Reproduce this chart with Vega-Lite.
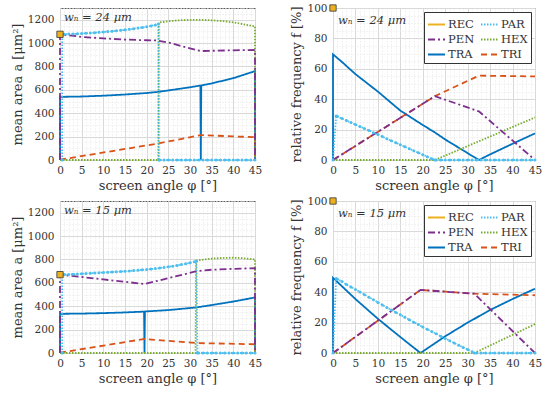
{
  "$schema": "https://vega.github.io/schema/vega-lite/v6.json",
  "padding": {"left": 10, "top": 2, "right": 2, "bottom": 2},
  "background": "white",
  "columns": 2,
  "spacing": {"row": 2, "column": 27},
  "align": "each",
  "resolve": {"scale": {"color": "independent", "strokeDash": "independent", "x": "independent", "y": "independent"}, "legend": {"color": "independent", "strokeDash": "independent"}},
  "concat": [
    {
      "width": 195, "height": 152,
      "view": {"stroke": "#5a5a5a", "strokeWidth": 1},
      "data": {"values": [
        {"s":"TRA","x":0,"y":0},{"s":"TRA","x":0,"y":540},{"s":"TRA","x":5,"y":543},{"s":"TRA","x":10,"y":550},{"s":"TRA","x":15,"y":560},{"s":"TRA","x":20,"y":573},{"s":"TRA","x":22.5,"y":582},{"s":"TRA","x":25,"y":595},{"s":"TRA","x":30,"y":622},{"s":"TRA","x":32.4,"y":637},{"s":"TRA","x":32.5,"y":0},{"s":"TRA","x":32.6,"y":638},{"s":"TRA","x":35,"y":655},{"s":"TRA","x":40,"y":700},{"s":"TRA","x":45,"y":760},{"s":"TRA","x":45,"y":0},
        {"s":"TRI","x":0,"y":3},{"s":"TRI","x":22.5,"y":140},{"s":"TRI","x":32.5,"y":213},{"s":"TRI","x":45,"y":195},{"s":"TRI","x":45,"y":0},
        {"s":"HEX","x":0,"y":0},{"s":"HEX","x":22.7,"y":0},{"s":"HEX","x":22.8,"y":1175},{"s":"HEX","x":25,"y":1187},{"s":"HEX","x":27.5,"y":1195},{"s":"HEX","x":30,"y":1199},{"s":"HEX","x":32.5,"y":1199},{"s":"HEX","x":35,"y":1195},{"s":"HEX","x":37.5,"y":1188},{"s":"HEX","x":40,"y":1177},{"s":"HEX","x":42.5,"y":1160},{"s":"HEX","x":45,"y":1142},{"s":"HEX","x":45,"y":0},
        {"s":"PEN","x":0,"y":0},{"s":"PEN","x":0,"y":1075},{"s":"PEN","x":5,"y":1053},{"s":"PEN","x":10,"y":1040},{"s":"PEN","x":15,"y":1030},{"s":"PEN","x":20,"y":1024},{"s":"PEN","x":22.5,"y":1022},{"s":"PEN","x":25,"y":1005},{"s":"PEN","x":30,"y":955},{"s":"PEN","x":32.5,"y":932},{"s":"PEN","x":35,"y":934},{"s":"PEN","x":40,"y":938},{"s":"PEN","x":45,"y":941},{"s":"PEN","x":45,"y":0},
        {"s":"PAR","x":0.5,"y":0},{"s":"PAR","x":0.5,"y":1075},{"s":"PAR","x":1,"y":1076},{"s":"PAR","x":2,"y":1077},{"s":"PAR","x":3,"y":1078},{"s":"PAR","x":4,"y":1080},{"s":"PAR","x":5,"y":1082},{"s":"PAR","x":6,"y":1084},{"s":"PAR","x":7,"y":1086},{"s":"PAR","x":8,"y":1089},{"s":"PAR","x":9,"y":1092},{"s":"PAR","x":10,"y":1095},{"s":"PAR","x":11,"y":1098},{"s":"PAR","x":12,"y":1101},{"s":"PAR","x":13,"y":1105},{"s":"PAR","x":14,"y":1109},{"s":"PAR","x":15,"y":1113},{"s":"PAR","x":16,"y":1118},{"s":"PAR","x":17,"y":1123},{"s":"PAR","x":18,"y":1128},{"s":"PAR","x":19,"y":1134},{"s":"PAR","x":20,"y":1140},{"s":"PAR","x":21,"y":1147},{"s":"PAR","x":22,"y":1155},{"s":"PAR","x":22.7,"y":1163},{"s":"PAR","x":22.8,"y":0},{"s":"PAR","x":23,"y":0},{"s":"PAR","x":24,"y":0},{"s":"PAR","x":25,"y":0},{"s":"PAR","x":26,"y":0},{"s":"PAR","x":27,"y":0},{"s":"PAR","x":28,"y":0},{"s":"PAR","x":29,"y":0},{"s":"PAR","x":30,"y":0},{"s":"PAR","x":31,"y":0},{"s":"PAR","x":32,"y":0},{"s":"PAR","x":33,"y":0},{"s":"PAR","x":34,"y":0},{"s":"PAR","x":35,"y":0},{"s":"PAR","x":36,"y":0},{"s":"PAR","x":37,"y":0},{"s":"PAR","x":38,"y":0},{"s":"PAR","x":39,"y":0},{"s":"PAR","x":40,"y":0},{"s":"PAR","x":41,"y":0},{"s":"PAR","x":42,"y":0},{"s":"PAR","x":43,"y":0},{"s":"PAR","x":44,"y":0},{"s":"PAR","x":45,"y":0},
        {"s":"REC","x":0,"y":1075}
      ]},
      "encoding": {
        "x": {"field":"x","type":"quantitative","scale":{"domain":[0,45],"nice":false,"zero":false},"axis":{"title":"screen angle  φ [°]","values":[0,1,2,3,4,5,6,7,8,9,10,11,12,13,14,15,16,17,18,19,20,21,22,23,24,25,26,27,28,29,30,31,32,33,34,35,36,37,38,39,40,41,42,43,44,45],"format":"d","labelExpr":"datum.value % 5 === 0 ? datum.label : ''","labelFont":"DejaVu Serif","labelFontSize":10.5,"labelColor":"#333333","titleFont":"DejaVu Serif","titleFontSize":13,"titleFontWeight":"normal","titleColor":"#333333","domain":false,"ticks":false,"labelPadding":5,"titlePadding":4,"labelOverlap":false,"labelFlush":false,"gridColor":{"condition":{"test":"datum.value % 5 === 0","value":"#d9d9d9"},"value":"#e6e6e6"},"gridDash":{"condition":{"test":"datum.value % 5 === 0","value":[]},"value":[1,2]}}},
        "y": {"field":"y","type":"quantitative","scale":{"domain":[0,1300],"nice":false},"axis":{"title":"mean area a [μm²]","values":[0,50,100,150,200,250,300,350,400,450,500,550,600,650,700,750,800,850,900,950,1000,1050,1100,1150,1200,1250,1300],"format":"d","labelExpr":"datum.value % 200 === 0 ? datum.label : ''","labelFont":"DejaVu Serif","labelFontSize":10.5,"labelColor":"#333333","titleFont":"DejaVu Serif","titleFontSize":13,"titleFontWeight":"normal","titleColor":"#333333","domain":false,"ticks":false,"labelPadding":6,"titlePadding":3,"labelOverlap":false,"labelFlush":false,"gridColor":{"condition":{"test":"datum.value % 200 === 0","value":"#d9d9d9"},"value":"#e6e6e6"},"gridDash":{"condition":{"test":"datum.value % 200 === 0","value":[]},"value":[1,2]}}}
      },
      "layer": [
        {"transform":[{"filter":"datum.s !== 'REC'"}],
         "mark":{"type":"line","strokeWidth":1.8,"strokeCap":"butt"},
         "encoding":{
           "color":{"field":"s","type":"nominal","scale":{"domain":["REC","PEN","TRA","PAR","HEX","TRI"],"range":["#EDB120","#7E2F8E","#0072BD","#4DBEEE","#77AC30","#D95319"]},"legend":null},
           "strokeDash":{"field":"s","type":"nominal","scale":{"domain":["REC","PEN","TRA","PAR","HEX","TRI"],"range":[[1,0],[7,3,2,3],[1,0],[1.5,1.5],[1.5,1.5],[6,4]]},"legend":null},
           "order":{"value":null}
         }},
        {"transform":[{"filter":"datum.s === 'PAR'"}],"mark":{"type":"point","filled":true,"size":9,"color":"#4DBEEE","opacity":1}},
        {"transform":[{"filter":"datum.s === 'REC'"}],"mark":{"type":"point","shape":"square","filled":true,"size":40,"color":"#EDB120","stroke":"#333333","strokeWidth":0.8,"opacity":1}},
        {"data":{"values":[{"x":0.9,"y":1217,"t":"wₙ = 24 μm"}]},"mark":{"type":"text","align":"left","baseline":"middle","font":"DejaVu Serif","fontStyle":"italic","fontSize":11.5,"color":"#333333"},"encoding":{"text":{"field":"t"}}}
      ]
    },
    {
      "width": 202, "height": 152,
      "view": {"stroke": "#5a5a5a", "strokeWidth": 1},
      "data": {"values": [
        {"s":"TRA","x":0,"y":0},{"s":"TRA","x":0,"y":69.5},{"s":"TRA","x":2,"y":64.5},{"s":"TRA","x":5,"y":56.5},{"s":"TRA","x":10,"y":45},{"s":"TRA","x":15,"y":32.5},{"s":"TRA","x":20,"y":23},{"s":"TRA","x":22.5,"y":18.5},{"s":"TRA","x":25,"y":13.5},{"s":"TRA","x":30,"y":4.5},{"s":"TRA","x":32.5,"y":0},{"s":"TRA","x":35,"y":3.7},{"s":"TRA","x":40,"y":10.7},{"s":"TRA","x":45,"y":17.5},
        {"s":"TRI","x":0,"y":0},{"s":"TRI","x":22.7,"y":42},{"s":"TRI","x":32.5,"y":55.5},{"s":"TRI","x":45,"y":55},
        {"s":"HEX","x":0,"y":0},{"s":"HEX","x":22.7,"y":0},{"s":"HEX","x":45,"y":28},
        {"s":"PEN","x":0,"y":0},{"s":"PEN","x":22.7,"y":42},{"s":"PEN","x":32.5,"y":32},{"s":"PEN","x":45,"y":0},
        {"s":"PAR","x":0,"y":0},{"s":"PAR","x":0.7,"y":29},{"s":"PAR","x":1,"y":28.6},{"s":"PAR","x":2,"y":27.3},{"s":"PAR","x":3,"y":26},{"s":"PAR","x":4,"y":24.6},{"s":"PAR","x":5,"y":23.3},{"s":"PAR","x":6,"y":22},{"s":"PAR","x":7,"y":20.7},{"s":"PAR","x":8,"y":19.4},{"s":"PAR","x":9,"y":18},{"s":"PAR","x":10,"y":16.7},{"s":"PAR","x":11,"y":15.4},{"s":"PAR","x":12,"y":14},{"s":"PAR","x":13,"y":12.7},{"s":"PAR","x":14,"y":11.4},{"s":"PAR","x":15,"y":10},{"s":"PAR","x":16,"y":8.7},{"s":"PAR","x":17,"y":7.4},{"s":"PAR","x":18,"y":6.1},{"s":"PAR","x":19,"y":4.8},{"s":"PAR","x":20,"y":3.5},{"s":"PAR","x":21,"y":2.2},{"s":"PAR","x":22,"y":0.9},{"s":"PAR","x":22.7,"y":0},{"s":"PAR","x":23,"y":0},{"s":"PAR","x":24,"y":0},{"s":"PAR","x":25,"y":0},{"s":"PAR","x":26,"y":0},{"s":"PAR","x":27,"y":0},{"s":"PAR","x":28,"y":0},{"s":"PAR","x":29,"y":0},{"s":"PAR","x":30,"y":0},{"s":"PAR","x":31,"y":0},{"s":"PAR","x":32,"y":0},{"s":"PAR","x":33,"y":0},{"s":"PAR","x":34,"y":0},{"s":"PAR","x":35,"y":0},{"s":"PAR","x":36,"y":0},{"s":"PAR","x":37,"y":0},{"s":"PAR","x":38,"y":0},{"s":"PAR","x":39,"y":0},{"s":"PAR","x":40,"y":0},{"s":"PAR","x":41,"y":0},{"s":"PAR","x":42,"y":0},{"s":"PAR","x":43,"y":0},{"s":"PAR","x":44,"y":0},{"s":"PAR","x":45,"y":0},
        {"s":"REC","x":0,"y":100}
      ]},
      "encoding": {
        "x": {"field":"x","type":"quantitative","scale":{"domain":[0,45],"nice":false,"zero":false},"axis":{"title":"screen angle  φ [°]","values":[0,1,2,3,4,5,6,7,8,9,10,11,12,13,14,15,16,17,18,19,20,21,22,23,24,25,26,27,28,29,30,31,32,33,34,35,36,37,38,39,40,41,42,43,44,45],"format":"d","labelExpr":"datum.value % 5 === 0 ? datum.label : ''","labelFont":"DejaVu Serif","labelFontSize":10.5,"labelColor":"#333333","titleFont":"DejaVu Serif","titleFontSize":13,"titleFontWeight":"normal","titleColor":"#333333","domain":false,"ticks":false,"labelPadding":5,"titlePadding":4,"labelOverlap":false,"labelFlush":false,"gridColor":{"condition":{"test":"datum.value % 5 === 0","value":"#d9d9d9"},"value":"#e6e6e6"},"gridDash":{"condition":{"test":"datum.value % 5 === 0","value":[]},"value":[1,2]}}},
        "y": {"field":"y","type":"quantitative","scale":{"domain":[0,100],"nice":false},"axis":{"title":"relative frequency f [%]","values":[0,5,10,15,20,25,30,35,40,45,50,55,60,65,70,75,80,85,90,95,100],"format":"d","labelExpr":"datum.value % 20 === 0 ? datum.label : ''","labelFont":"DejaVu Serif","labelFontSize":10.5,"labelColor":"#333333","titleFont":"DejaVu Serif","titleFontSize":13,"titleFontWeight":"normal","titleColor":"#333333","domain":false,"ticks":false,"labelPadding":6,"titlePadding":3,"labelOverlap":false,"labelFlush":false,"gridColor":{"condition":{"test":"datum.value % 20 === 0","value":"#d9d9d9"},"value":"#e6e6e6"},"gridDash":{"condition":{"test":"datum.value % 20 === 0","value":[]},"value":[1,2]}}}
      },
      "layer": [
        {"transform":[{"filter":"datum.s !== 'REC'"}],
         "mark":{"type":"line","strokeWidth":1.8,"strokeCap":"butt"},
         "encoding":{
           "color":{"field":"s","type":"nominal","scale":{"domain":["REC","PEN","TRA","PAR","HEX","TRI"],"range":["#EDB120","#7E2F8E","#0072BD","#4DBEEE","#77AC30","#D95319"]},"legend":{"title":null,"orient":"top-right","offset":4,"columns":2,"symbolType":"stroke","symbolSize":289,"symbolStrokeWidth":1.8,"strokeColor":"#333333","fillColor":"white","padding":3,"columnPadding":2,"rowPadding":0,"labelOffset":2,"labelFont":"DejaVu Serif","labelFontSize":11.5,"labelColor":"#333333"}},
           "strokeDash":{"field":"s","type":"nominal","scale":{"domain":["REC","PEN","TRA","PAR","HEX","TRI"],"range":[[1,0],[7,3,2,3],[1,0],[1.5,1.5],[1.5,1.5],[6,4]]},"legend":{"title":null,"orient":"top-right","offset":4,"columns":2,"symbolType":"stroke","symbolSize":289,"symbolStrokeWidth":1.8,"strokeColor":"#333333","fillColor":"white","padding":3,"columnPadding":2,"rowPadding":0,"labelOffset":2,"labelFont":"DejaVu Serif","labelFontSize":11.5,"labelColor":"#333333"}},
           "order":{"value":null}
         }},
        {"transform":[{"filter":"datum.s === 'PAR'"}],"mark":{"type":"point","filled":true,"size":9,"color":"#4DBEEE","opacity":1}},
        {"transform":[{"filter":"datum.s === 'REC'"}],"mark":{"type":"point","shape":"square","filled":true,"size":40,"color":"#EDB120","stroke":"#333333","strokeWidth":0.8,"opacity":1}},
        {"data":{"values":[{"x":1.1,"y":91.5,"t":"wₙ = 24 μm"}]},"mark":{"type":"text","align":"left","baseline":"middle","font":"DejaVu Serif","fontStyle":"italic","fontSize":11.5,"color":"#333333"},"encoding":{"text":{"field":"t"}}}
      ]
    },
    {
      "width": 195, "height": 152,
      "view": {"stroke": "#5a5a5a", "strokeWidth": 1},
      "data": {"values": [
        {"s":"TRA","x":0,"y":0},{"s":"TRA","x":0,"y":335},{"s":"TRA","x":5,"y":337},{"s":"TRA","x":10,"y":341},{"s":"TRA","x":15,"y":347},{"s":"TRA","x":19.4,"y":354},{"s":"TRA","x":19.5,"y":0},{"s":"TRA","x":19.6,"y":355},{"s":"TRA","x":25,"y":367},{"s":"TRA","x":31.5,"y":390},{"s":"TRA","x":35,"y":410},{"s":"TRA","x":40,"y":440},{"s":"TRA","x":45,"y":475},{"s":"TRA","x":45,"y":0},
        {"s":"TRI","x":0,"y":3},{"s":"TRI","x":19.5,"y":120},{"s":"TRI","x":31.5,"y":85},{"s":"TRI","x":45,"y":75},{"s":"TRI","x":45,"y":0},
        {"s":"HEX","x":0,"y":0},{"s":"HEX","x":31.3,"y":0},{"s":"HEX","x":31.4,"y":790},{"s":"HEX","x":35,"y":808},{"s":"HEX","x":37.5,"y":813},{"s":"HEX","x":40,"y":815},{"s":"HEX","x":42.5,"y":810},{"s":"HEX","x":45,"y":800},{"s":"HEX","x":45,"y":0},
        {"s":"PEN","x":0,"y":0},{"s":"PEN","x":0,"y":670},{"s":"PEN","x":5,"y":650},{"s":"PEN","x":10,"y":629},{"s":"PEN","x":15,"y":609},{"s":"PEN","x":19.5,"y":590},{"s":"PEN","x":25,"y":640},{"s":"PEN","x":31.5,"y":700},{"s":"PEN","x":35,"y":712},{"s":"PEN","x":40,"y":720},{"s":"PEN","x":45,"y":725},{"s":"PEN","x":45,"y":0},
        {"s":"PAR","x":0.5,"y":0},{"s":"PAR","x":0.5,"y":670},{"s":"PAR","x":1,"y":671},{"s":"PAR","x":2,"y":672},{"s":"PAR","x":3,"y":674},{"s":"PAR","x":4,"y":676},{"s":"PAR","x":5,"y":678},{"s":"PAR","x":6,"y":680},{"s":"PAR","x":7,"y":682},{"s":"PAR","x":8,"y":684},{"s":"PAR","x":9,"y":686},{"s":"PAR","x":10,"y":688},{"s":"PAR","x":11,"y":690},{"s":"PAR","x":12,"y":692},{"s":"PAR","x":13,"y":694},{"s":"PAR","x":14,"y":696},{"s":"PAR","x":15,"y":699},{"s":"PAR","x":16,"y":702},{"s":"PAR","x":17,"y":705},{"s":"PAR","x":18,"y":708},{"s":"PAR","x":19,"y":711},{"s":"PAR","x":20,"y":714},{"s":"PAR","x":21,"y":718},{"s":"PAR","x":22,"y":722},{"s":"PAR","x":23,"y":727},{"s":"PAR","x":24,"y":732},{"s":"PAR","x":25,"y":737},{"s":"PAR","x":26,"y":743},{"s":"PAR","x":27,"y":749},{"s":"PAR","x":28,"y":756},{"s":"PAR","x":29,"y":763},{"s":"PAR","x":30,"y":771},{"s":"PAR","x":31,"y":780},{"s":"PAR","x":31.5,"y":785},{"s":"PAR","x":31.7,"y":0},{"s":"PAR","x":32,"y":0},{"s":"PAR","x":33,"y":0},{"s":"PAR","x":34,"y":0},{"s":"PAR","x":35,"y":0},{"s":"PAR","x":36,"y":0},{"s":"PAR","x":37,"y":0},{"s":"PAR","x":38,"y":0},{"s":"PAR","x":39,"y":0},{"s":"PAR","x":40,"y":0},{"s":"PAR","x":41,"y":0},{"s":"PAR","x":42,"y":0},{"s":"PAR","x":43,"y":0},{"s":"PAR","x":44,"y":0},{"s":"PAR","x":45,"y":0},
        {"s":"REC","x":0,"y":670}
      ]},
      "encoding": {
        "x": {"field":"x","type":"quantitative","scale":{"domain":[0,45],"nice":false,"zero":false},"axis":{"title":"screen angle  φ [°]","values":[0,1,2,3,4,5,6,7,8,9,10,11,12,13,14,15,16,17,18,19,20,21,22,23,24,25,26,27,28,29,30,31,32,33,34,35,36,37,38,39,40,41,42,43,44,45],"format":"d","labelExpr":"datum.value % 5 === 0 ? datum.label : ''","labelFont":"DejaVu Serif","labelFontSize":10.5,"labelColor":"#333333","titleFont":"DejaVu Serif","titleFontSize":13,"titleFontWeight":"normal","titleColor":"#333333","domain":false,"ticks":false,"labelPadding":5,"titlePadding":4,"labelOverlap":false,"labelFlush":false,"gridColor":{"condition":{"test":"datum.value % 5 === 0","value":"#d9d9d9"},"value":"#e6e6e6"},"gridDash":{"condition":{"test":"datum.value % 5 === 0","value":[]},"value":[1,2]}}},
        "y": {"field":"y","type":"quantitative","scale":{"domain":[0,1300],"nice":false},"axis":{"title":"mean area a [μm²]","values":[0,50,100,150,200,250,300,350,400,450,500,550,600,650,700,750,800,850,900,950,1000,1050,1100,1150,1200,1250,1300],"format":"d","labelExpr":"datum.value % 200 === 0 ? datum.label : ''","labelFont":"DejaVu Serif","labelFontSize":10.5,"labelColor":"#333333","titleFont":"DejaVu Serif","titleFontSize":13,"titleFontWeight":"normal","titleColor":"#333333","domain":false,"ticks":false,"labelPadding":6,"titlePadding":3,"labelOverlap":false,"labelFlush":false,"gridColor":{"condition":{"test":"datum.value % 200 === 0","value":"#d9d9d9"},"value":"#e6e6e6"},"gridDash":{"condition":{"test":"datum.value % 200 === 0","value":[]},"value":[1,2]}}}
      },
      "layer": [
        {"transform":[{"filter":"datum.s !== 'REC'"}],
         "mark":{"type":"line","strokeWidth":1.8,"strokeCap":"butt"},
         "encoding":{
           "color":{"field":"s","type":"nominal","scale":{"domain":["REC","PEN","TRA","PAR","HEX","TRI"],"range":["#EDB120","#7E2F8E","#0072BD","#4DBEEE","#77AC30","#D95319"]},"legend":null},
           "strokeDash":{"field":"s","type":"nominal","scale":{"domain":["REC","PEN","TRA","PAR","HEX","TRI"],"range":[[1,0],[7,3,2,3],[1,0],[1.5,1.5],[1.5,1.5],[6,4]]},"legend":null},
           "order":{"value":null}
         }},
        {"transform":[{"filter":"datum.s === 'PAR'"}],"mark":{"type":"point","filled":true,"size":9,"color":"#4DBEEE","opacity":1}},
        {"transform":[{"filter":"datum.s === 'REC'"}],"mark":{"type":"point","shape":"square","filled":true,"size":40,"color":"#EDB120","stroke":"#333333","strokeWidth":0.8,"opacity":1}},
        {"data":{"values":[{"x":0.9,"y":1217,"t":"wₙ = 15 μm"}]},"mark":{"type":"text","align":"left","baseline":"middle","font":"DejaVu Serif","fontStyle":"italic","fontSize":11.5,"color":"#333333"},"encoding":{"text":{"field":"t"}}}
      ]
    },
    {
      "width": 202, "height": 152,
      "view": {"stroke": "#5a5a5a", "strokeWidth": 1},
      "data": {"values": [
        {"s":"TRA","x":0,"y":0},{"s":"TRA","x":0,"y":49.5},{"s":"TRA","x":5,"y":35.5},{"s":"TRA","x":10,"y":22.5},{"s":"TRA","x":15,"y":10.5},{"s":"TRA","x":19.5,"y":0},{"s":"TRA","x":25,"y":11},{"s":"TRA","x":30,"y":20},{"s":"TRA","x":35,"y":28.3},{"s":"TRA","x":40,"y":35.5},{"s":"TRA","x":45,"y":42.3},
        {"s":"TRI","x":0,"y":0},{"s":"TRI","x":19.5,"y":41.5},{"s":"TRI","x":31.5,"y":39},{"s":"TRI","x":45,"y":38},
        {"s":"HEX","x":0,"y":0},{"s":"HEX","x":31.5,"y":0},{"s":"HEX","x":45,"y":19},
        {"s":"PEN","x":0,"y":0},{"s":"PEN","x":19.5,"y":41.5},{"s":"PEN","x":31.5,"y":39},{"s":"PEN","x":45,"y":0},
        {"s":"PAR","x":0,"y":0},{"s":"PAR","x":0.7,"y":49},{"s":"PAR","x":1,"y":48.5},{"s":"PAR","x":2,"y":47},{"s":"PAR","x":3,"y":45},{"s":"PAR","x":4,"y":43.5},{"s":"PAR","x":5,"y":41.8},{"s":"PAR","x":6,"y":40.1},{"s":"PAR","x":7,"y":38.4},{"s":"PAR","x":8,"y":36.7},{"s":"PAR","x":9,"y":35},{"s":"PAR","x":10,"y":33.3},{"s":"PAR","x":11,"y":31.6},{"s":"PAR","x":12,"y":29.9},{"s":"PAR","x":13,"y":28.3},{"s":"PAR","x":14,"y":26.7},{"s":"PAR","x":15,"y":25.1},{"s":"PAR","x":16,"y":23.5},{"s":"PAR","x":17,"y":21.9},{"s":"PAR","x":18,"y":20.3},{"s":"PAR","x":19,"y":18.7},{"s":"PAR","x":20,"y":17.1},{"s":"PAR","x":21,"y":15.6},{"s":"PAR","x":22,"y":14.1},{"s":"PAR","x":23,"y":12.6},{"s":"PAR","x":24,"y":11.1},{"s":"PAR","x":25,"y":9.6},{"s":"PAR","x":26,"y":8.1},{"s":"PAR","x":27,"y":6.6},{"s":"PAR","x":28,"y":5.1},{"s":"PAR","x":29,"y":3.7},{"s":"PAR","x":30,"y":2.3},{"s":"PAR","x":31,"y":0.9},{"s":"PAR","x":31.5,"y":0},{"s":"PAR","x":32,"y":0},{"s":"PAR","x":33,"y":0},{"s":"PAR","x":34,"y":0},{"s":"PAR","x":35,"y":0},{"s":"PAR","x":36,"y":0},{"s":"PAR","x":37,"y":0},{"s":"PAR","x":38,"y":0},{"s":"PAR","x":39,"y":0},{"s":"PAR","x":40,"y":0},{"s":"PAR","x":41,"y":0},{"s":"PAR","x":42,"y":0},{"s":"PAR","x":43,"y":0},{"s":"PAR","x":44,"y":0},{"s":"PAR","x":45,"y":0},
        {"s":"REC","x":0,"y":100}
      ]},
      "encoding": {
        "x": {"field":"x","type":"quantitative","scale":{"domain":[0,45],"nice":false,"zero":false},"axis":{"title":"screen angle  φ [°]","values":[0,1,2,3,4,5,6,7,8,9,10,11,12,13,14,15,16,17,18,19,20,21,22,23,24,25,26,27,28,29,30,31,32,33,34,35,36,37,38,39,40,41,42,43,44,45],"format":"d","labelExpr":"datum.value % 5 === 0 ? datum.label : ''","labelFont":"DejaVu Serif","labelFontSize":10.5,"labelColor":"#333333","titleFont":"DejaVu Serif","titleFontSize":13,"titleFontWeight":"normal","titleColor":"#333333","domain":false,"ticks":false,"labelPadding":5,"titlePadding":4,"labelOverlap":false,"labelFlush":false,"gridColor":{"condition":{"test":"datum.value % 5 === 0","value":"#d9d9d9"},"value":"#e6e6e6"},"gridDash":{"condition":{"test":"datum.value % 5 === 0","value":[]},"value":[1,2]}}},
        "y": {"field":"y","type":"quantitative","scale":{"domain":[0,100],"nice":false},"axis":{"title":"relative frequency f [%]","values":[0,5,10,15,20,25,30,35,40,45,50,55,60,65,70,75,80,85,90,95,100],"format":"d","labelExpr":"datum.value % 20 === 0 ? datum.label : ''","labelFont":"DejaVu Serif","labelFontSize":10.5,"labelColor":"#333333","titleFont":"DejaVu Serif","titleFontSize":13,"titleFontWeight":"normal","titleColor":"#333333","domain":false,"ticks":false,"labelPadding":6,"titlePadding":3,"labelOverlap":false,"labelFlush":false,"gridColor":{"condition":{"test":"datum.value % 20 === 0","value":"#d9d9d9"},"value":"#e6e6e6"},"gridDash":{"condition":{"test":"datum.value % 20 === 0","value":[]},"value":[1,2]}}}
      },
      "layer": [
        {"transform":[{"filter":"datum.s !== 'REC'"}],
         "mark":{"type":"line","strokeWidth":1.8,"strokeCap":"butt"},
         "encoding":{
           "color":{"field":"s","type":"nominal","scale":{"domain":["REC","PEN","TRA","PAR","HEX","TRI"],"range":["#EDB120","#7E2F8E","#0072BD","#4DBEEE","#77AC30","#D95319"]},"legend":{"title":null,"orient":"top-right","offset":4,"columns":2,"symbolType":"stroke","symbolSize":289,"symbolStrokeWidth":1.8,"strokeColor":"#333333","fillColor":"white","padding":3,"columnPadding":2,"rowPadding":0,"labelOffset":2,"labelFont":"DejaVu Serif","labelFontSize":11.5,"labelColor":"#333333"}},
           "strokeDash":{"field":"s","type":"nominal","scale":{"domain":["REC","PEN","TRA","PAR","HEX","TRI"],"range":[[1,0],[7,3,2,3],[1,0],[1.5,1.5],[1.5,1.5],[6,4]]},"legend":{"title":null,"orient":"top-right","offset":4,"columns":2,"symbolType":"stroke","symbolSize":289,"symbolStrokeWidth":1.8,"strokeColor":"#333333","fillColor":"white","padding":3,"columnPadding":2,"rowPadding":0,"labelOffset":2,"labelFont":"DejaVu Serif","labelFontSize":11.5,"labelColor":"#333333"}},
           "order":{"value":null}
         }},
        {"transform":[{"filter":"datum.s === 'PAR'"}],"mark":{"type":"point","filled":true,"size":9,"color":"#4DBEEE","opacity":1}},
        {"transform":[{"filter":"datum.s === 'REC'"}],"mark":{"type":"point","shape":"square","filled":true,"size":40,"color":"#EDB120","stroke":"#333333","strokeWidth":0.8,"opacity":1}},
        {"data":{"values":[{"x":1.1,"y":91.5,"t":"wₙ = 15 μm"}]},"mark":{"type":"text","align":"left","baseline":"middle","font":"DejaVu Serif","fontStyle":"italic","fontSize":11.5,"color":"#333333"},"encoding":{"text":{"field":"t"}}}
      ]
    }
  ]
}
